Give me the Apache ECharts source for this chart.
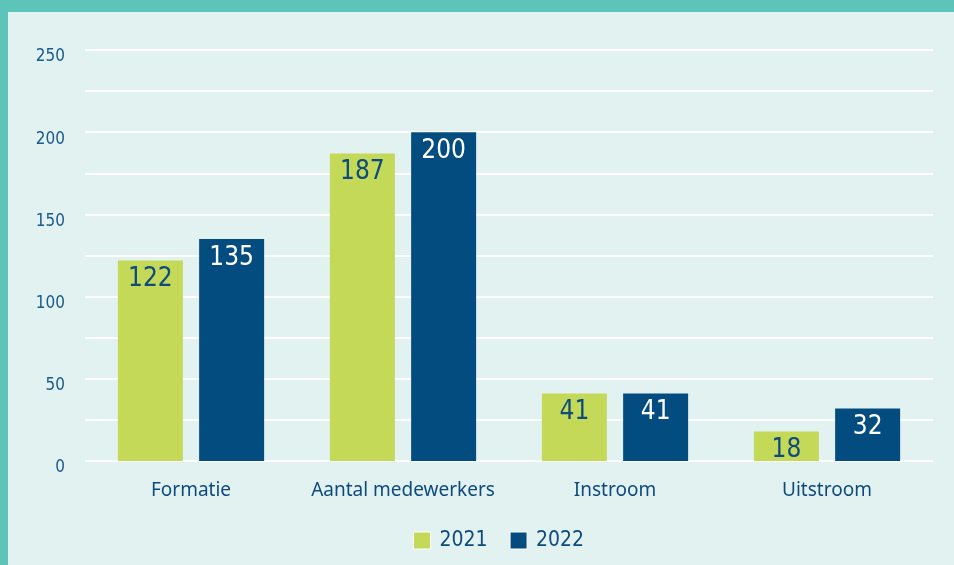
<!DOCTYPE html>
<html>
<head>
<meta charset="utf-8">
<script src="https://cdn.jsdelivr.net/npm/echarts@6/dist/echarts.min.js"></script>
<style>
  html, body { margin: 0; padding: 0; background: #5cc4b8; }
  #wrap { position: absolute; left: 0; top: 0; width: 954px; height: 565px; background: #5cc4b8; }
  #chart { position: absolute; left: 8px; top: 12px; width: 946px; height: 553px; background: #e2f2f1; }
</style>
</head>
<body>
<div id="wrap"><div id="chart"></div></div>
<script>
var categories = ["Formatie", "Aantal medewerkers", "Instroom", "Uitstroom"];
var years = ["2021", "2022"];
var values2021 = [122, 187, 41, 18];
var values2022 = [135, 200, 41, 32];

var numFont = '"DejaVu Sans Condensed", sans-serif';
var textFont = '"Noto Sans", sans-serif';
var darkBlue = "#0e4a7e";

var chart = echarts.init(document.getElementById("chart"));
chart.setOption({
    backgroundColor: "#e2f2f1",
    animation: false,
    grid: {
        left: 77,
        right: 21,
        top: 38,
        bottom: 104
    },
    legend: {
        bottom: 9,
        left: 400,
        itemWidth: 17,
        itemHeight: 17,
        itemGap: 22,
        icon: "rect",
        itemStyle: { borderColor: "#ffffff", borderWidth: 1 },
        textStyle: {
            fontFamily: numFont,
            fontSize: 21,
            color: darkBlue,
            padding: [0, 0, 0, 4]
        },
        data: years
    },
    xAxis: {
        type: "category",
        data: categories,
        axisLine: { show: false },
        axisTick: { show: false },
        axisLabel: {
            interval: 0,
            margin: 20,
            fontFamily: textFont,
            fontSize: 19,
            color: darkBlue
        }
    },
    yAxis: {
        type: "value",
        min: 0,
        max: 250,
        interval: 25,
        axisLine: { show: false },
        axisTick: { show: false },
        axisLabel: {
            margin: 20,
            fontFamily: numFont,
            fontSize: 17,
            color: "#1a5a8c",
            verticalAlign: "top",
            lineHeight: 14,
            formatter: function (v) { return v % 50 === 0 ? v : ""; }
        },
        splitLine: {
            lineStyle: { color: "#ffffff", width: 2 }
        }
    },
    series: [
        {
            name: years[0],
            type: "bar",
            data: values2021,
            barWidth: 65,
            barGap: "25%",
            itemStyle: { color: "#c4d957" },
            label: {
                show: true,
                position: "insideTop",
                distance: 6,
                fontFamily: numFont,
                fontSize: 26,
                color: darkBlue
            }
        },
        {
            name: years[1],
            type: "bar",
            data: values2022,
            barWidth: 65,
            itemStyle: { color: "#034c80" },
            label: {
                show: true,
                position: "insideTop",
                distance: 6,
                fontFamily: numFont,
                fontSize: 26,
                color: "#ffffff"
            }
        }
    ]
});
</script>
</body>
</html>
